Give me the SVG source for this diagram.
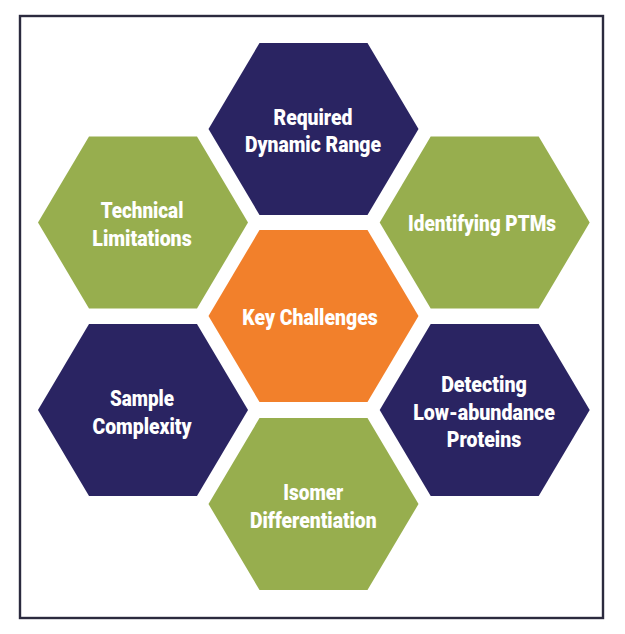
<svg xmlns="http://www.w3.org/2000/svg" xmlns:xlink="http://www.w3.org/1999/xlink" width="625" height="634" viewBox="0 0 625 634">
  <style>
    .navy { fill: #2a2462; }
    .green { fill: #97ae4e; }
    .orange { fill: #f2802b; }
    .lbl { font-family: Roboto, "Liberation Sans", sans-serif; font-weight: 900; font-size: 22px; fill: #ffffff; text-anchor: middle; }
  </style>
  <defs>
    <polygon id="hex" points="-105,0 -54,-86 54,-86 105,0 54,86 -54,86"/>
  </defs>
  <rect x="0" y="0" width="625" height="634" fill="#ffffff"/>
  <rect x="20" y="16" width="583" height="602" fill="#ffffff" stroke="#2b2a3e" stroke-width="2.4"/>
  <g id="connectors"/>
  <g id="node-dynamic-range">
    <use xlink:href="#hex" href="#hex" class="navy" x="313.5" y="129"/>
    <text class="lbl" x="313" y="124.5" textLength="79" lengthAdjust="spacingAndGlyphs">Required</text>
    <text class="lbl" x="313" y="152" textLength="136" lengthAdjust="spacingAndGlyphs">Dynamic Range</text>
  </g>
  <g id="node-technical-limitations">
    <use xlink:href="#hex" href="#hex" class="green" x="143" y="222.5"/>
    <text class="lbl" x="142" y="218" textLength="82.7" lengthAdjust="spacingAndGlyphs">Technical</text>
    <text class="lbl" x="142" y="245.5" textLength="99.3" lengthAdjust="spacingAndGlyphs">Limitations</text>
  </g>
  <g id="node-identifying-ptms">
    <use xlink:href="#hex" href="#hex" class="green" x="484.7" y="222.5"/>
    <text class="lbl" x="482" y="231" textLength="148" lengthAdjust="spacingAndGlyphs">Identifying PTMs</text>
  </g>
  <g id="node-key-challenges">
    <use xlink:href="#hex" href="#hex" class="orange" x="313.5" y="316"/>
    <text class="lbl" x="310" y="324.5" textLength="135.3" lengthAdjust="spacingAndGlyphs">Key Challenges</text>
  </g>
  <g id="node-sample-complexity">
    <use xlink:href="#hex" href="#hex" class="navy" x="143" y="410"/>
    <text class="lbl" x="142" y="405.8" textLength="64" lengthAdjust="spacingAndGlyphs">Sample</text>
    <text class="lbl" x="142" y="433.5" textLength="99" lengthAdjust="spacingAndGlyphs">Complexity</text>
  </g>
  <g id="node-low-abundance">
    <use xlink:href="#hex" href="#hex" class="navy" x="484.7" y="410"/>
    <text class="lbl" x="484" y="391.8" textLength="85.7" lengthAdjust="spacingAndGlyphs">Detecting</text>
    <text class="lbl" x="484" y="419.5" textLength="141.7" lengthAdjust="spacingAndGlyphs">Low-abundance</text>
    <text class="lbl" x="484" y="447.3" textLength="74.3" lengthAdjust="spacingAndGlyphs">Proteins</text>
  </g>
  <g id="node-isomer-differentiation">
    <use xlink:href="#hex" href="#hex" class="green" x="313.5" y="504"/>
    <text class="lbl" x="313.3" y="500" textLength="60" lengthAdjust="spacingAndGlyphs">Isomer</text>
    <text class="lbl" x="313.3" y="527.8" textLength="126.7" lengthAdjust="spacingAndGlyphs">Differentiation</text>
  </g>
</svg>
